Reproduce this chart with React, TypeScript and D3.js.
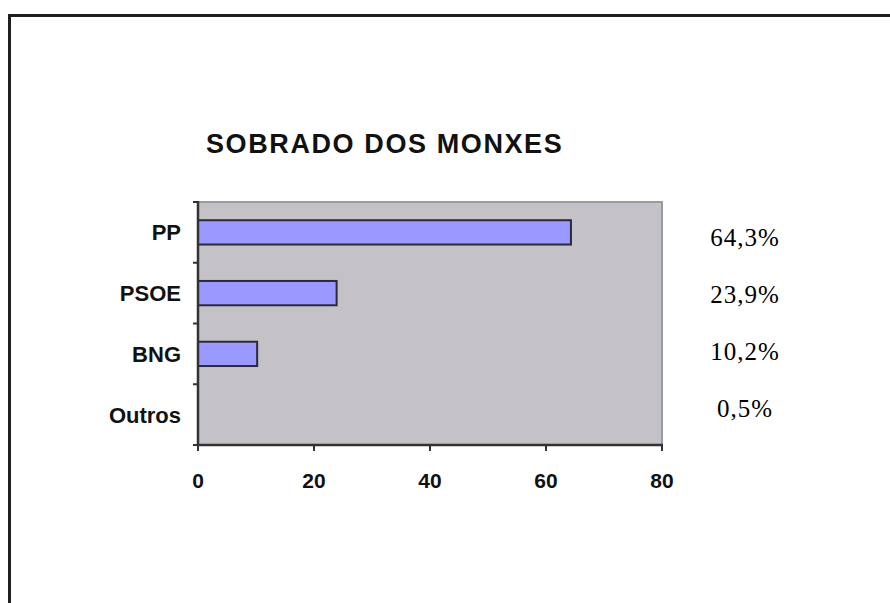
import React from "react";
import * as d3 from "d3";

const title = "SOBRADO DOS MONXES";
const categories = ["PP", "PSOE", "BNG", "Outros"];
const values = [64.3, 23.9, 10.2, 0];
const percentLabels = ["64,3%", "23,9%", "10,2%", "0,5%"];
const xTicks = [0, 20, 40, 60, 80];

const W = 890;
const H = 603;
const plot = { left: 198, right: 662, top: 202, bottom: 445 };

export default function App() {
  const x = d3.scaleLinear().domain([0, 80]).range([plot.left, plot.right]);
  const y = d3
    .scaleBand<string>()
    .domain(categories)
    .range([plot.top, plot.bottom])
    .paddingInner(0.6)
    .paddingOuter(0.3);
  const bandEdges = d3
    .range(categories.length + 1)
    .map((i) => plot.top + (i * (plot.bottom - plot.top)) / categories.length);
  const pctY = d3.scalePoint<string>().domain(categories).range([246, 417]);

  return (
    <svg
      width={W}
      height={H}
      style={{ position: "absolute", left: 0, top: 0, background: "#fff" }}
    >
      {/* outer frame */}
      <rect x={9.5} y={15.5} width={W + 20} height={H + 20} fill="none" stroke="#231f20" strokeWidth={3} />

      {/* title */}
      <text
        x={206}
        y={153}
        fontFamily="Arial, 'Liberation Sans', sans-serif"
        fontWeight="bold"
        fontSize={27}
        letterSpacing={1.6}
        fill="#111"
      >
        {title}
      </text>

      {/* plot area */}
      <rect
        x={plot.left}
        y={plot.top}
        width={plot.right - plot.left}
        height={plot.bottom - plot.top}
        fill="#c4c2c6"
        stroke="#9c9a9e"
        strokeWidth={2}
      />

      {/* bars */}
      {categories.map((c, i) =>
        values[i] > 0 ? (
          <rect
            key={c}
            x={x(0)}
            y={y(c)!}
            width={x(values[i]) - x(0)}
            height={y.bandwidth()}
            fill="#9999ff"
            stroke="#2a2a3a"
            strokeWidth={2}
          />
        ) : null
      )}

      {/* y axis */}
      <line x1={plot.left} x2={plot.left} y1={plot.top - 1} y2={plot.bottom + 1} stroke="#333" strokeWidth={2.5} />
      {bandEdges.map((v, i) => (
        <line key={i} x1={plot.left - 5} x2={plot.left} y1={v} y2={v} stroke="#333" strokeWidth={2} />
      ))}
      {categories.map((c) => (
        <text
          key={c}
          x={181}
          y={y(c)! + y.bandwidth() / 2}
          dy="0.36em"
          textAnchor="end"
          fontFamily="Arial, 'Liberation Sans', sans-serif"
          fontWeight="bold"
          fontSize={22}
          fill="#111"
        >
          {c}
        </text>
      ))}

      {/* x axis */}
      <line x1={plot.left - 1} x2={plot.right + 1} y1={plot.bottom} y2={plot.bottom} stroke="#333" strokeWidth={2.5} />
      {xTicks.map((t) => (
        <g key={t}>
          <line x1={x(t)} x2={x(t)} y1={plot.bottom} y2={plot.bottom + 6} stroke="#333" strokeWidth={2} />
          <text
            x={x(t)}
            y={488}
            textAnchor="middle"
            fontFamily="Arial, 'Liberation Sans', sans-serif"
            fontWeight="bold"
            fontSize={21}
            fill="#111"
          >
            {t}
          </text>
        </g>
      ))}

      {/* percentage labels */}
      {categories.map((c, i) => (
        <text
          key={c}
          x={745}
          y={pctY(c)!}
          textAnchor="middle"
          fontFamily="'Times New Roman', 'Liberation Serif', serif"
          fontSize={25}
          letterSpacing={1}
          fill="#000"
        >
          {percentLabels[i]}
        </text>
      ))}
    </svg>
  );
}
